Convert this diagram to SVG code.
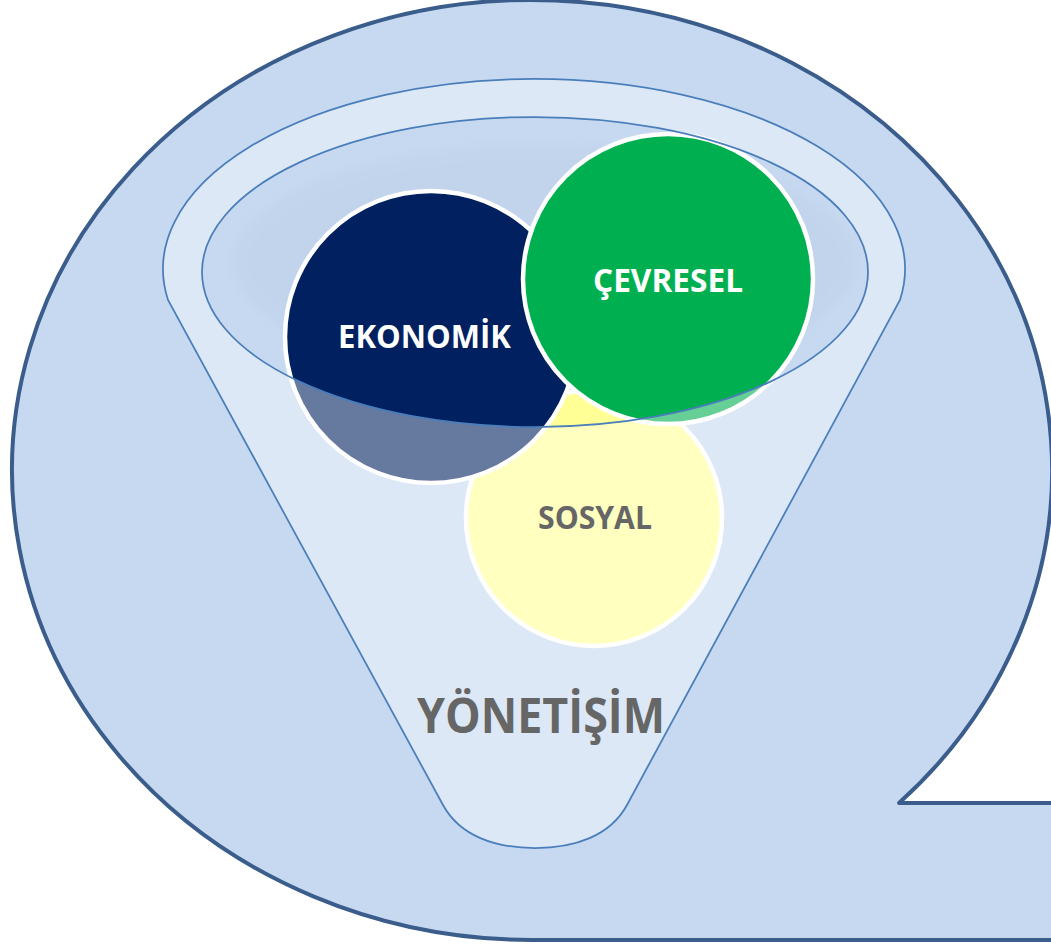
<svg xmlns="http://www.w3.org/2000/svg" width="1051" height="944" viewBox="0 0 1051 944">
  <defs>
    <filter id="soft" x="-20%" y="-40%" width="140%" height="180%">
      <feGaussianBlur stdDeviation="6"/>
    </filter>
  </defs>
  <style>
    .bubble { fill: #C6D9F0; stroke: #3A5D8C; stroke-width: 4; stroke-linejoin: round; }
    .line { fill: none; stroke: #4A7EBB; stroke-width: 1.75; }
    .overlay { fill: #FFFFFF; fill-opacity: 0.4; fill-rule: evenodd; }
    .circle { stroke: #FFFFFF; stroke-width: 4.5; }
    .lbl { font-family: "Open Sans", "Liberation Sans", Arial, sans-serif; font-weight: bold; text-anchor: middle; }
    .white { fill: #FFFFFF; font-size: 33px; }
    .gray { fill: #666666; font-size: 33px; }
    .big { fill: #666666; font-size: 48px; }
  </style>

  <g id="bubble">
    <path class="bubble" d="M899,803 A520,470 0 1 0 532,940 L1085,940 L1085,803 Z"/>
  </g>

  <g id="funnel-inner">
    <ellipse cx="545" cy="262" rx="312" ry="118" fill="#BBCDE7" opacity="0.35" filter="url(#soft)"/>
  </g>

  <g id="sosyal">
    <circle class="circle" cx="594" cy="518" r="128" fill="#FFFF96"/>
  </g>
  <g id="ekonomik">
    <circle class="circle" cx="431" cy="337" r="146" fill="#002060"/>
  </g>
  <g id="cevresel">
    <circle class="circle" cx="668" cy="279" r="145" fill="#00B050"/>
  </g>

  <g id="funnel">
    <path class="overlay" d="M168,300 A371,190 0 1 1 900,300 L627,805 C610,836 575,848 535,848 C495,848 460,836 443,805 Z M202,272 A333,155 0 1 0 868,272 A333,155 0 1 0 202,272 Z"/>
    <path class="line" d="M168,300 A371,190 0 1 1 900,300 L627,805 C610,836 575,848 535,848 C495,848 460,836 443,805 Z"/>
    <ellipse class="line" cx="535" cy="272" rx="333" ry="155"/>
  </g>

  <g id="labels">
    <text class="lbl white" x="424.5" y="348" textLength="173" lengthAdjust="spacingAndGlyphs">EKONOMİK</text>
    <text class="lbl white" x="668" y="292" textLength="150" lengthAdjust="spacingAndGlyphs">ÇEVRESEL</text>
    <text class="lbl gray" x="595" y="529" textLength="114" lengthAdjust="spacingAndGlyphs">SOSYAL</text>
    <text class="lbl big" x="541" y="733" textLength="248" lengthAdjust="spacingAndGlyphs">YÖNETİŞİM</text>
  </g>
</svg>
